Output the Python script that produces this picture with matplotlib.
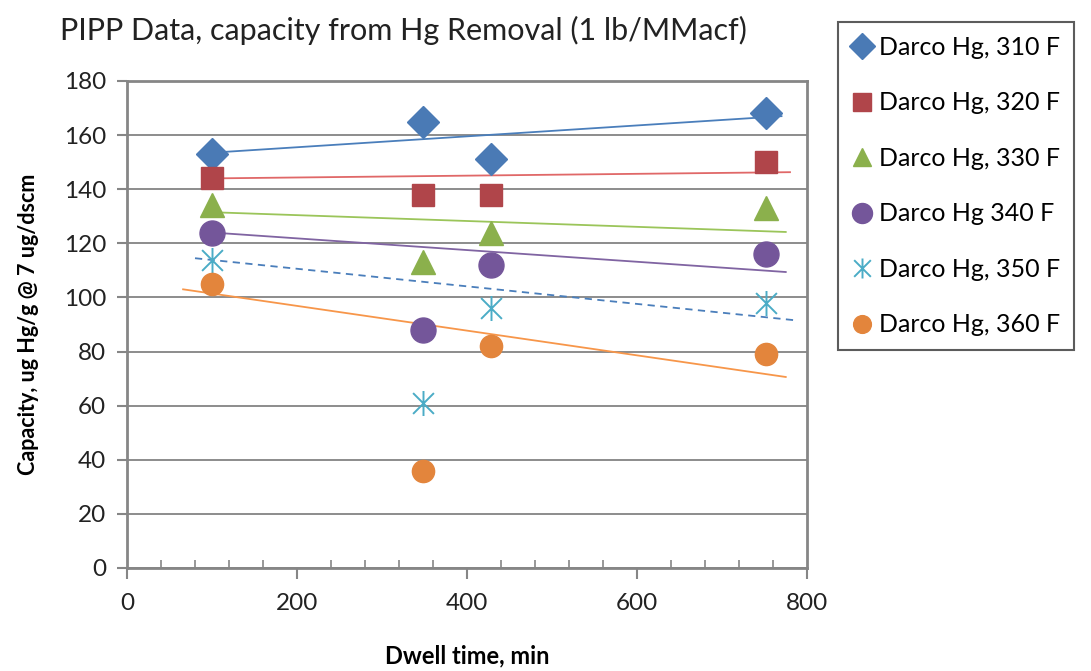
import matplotlib
matplotlib.use('Agg')
import matplotlib.pyplot as plt
from matplotlib.path import Path
from matplotlib.ticker import MultipleLocator

plt.rcParams['font.family'] = ['Lato', 'DejaVu Sans']

# Dwell time (min) shared by every series
dwell = [100, 348, 428, 752]

labels = ['Darco Hg, 310 F', 'Darco Hg, 320 F', 'Darco Hg, 330 F',
          'Darco Hg 340 F', 'Darco Hg, 350 F', 'Darco Hg, 360 F']

cap_310 = [153, 165, 151, 168]
cap_320 = [144, 138, 138, 150]
cap_330 = [134, 113, 124, 133]
cap_340 = [124, 88, 112, 116]
cap_350 = [114, 61, 96, 98]
cap_360 = [105, 36, 82, 79]

# trendline end points: (x0, x1), (y0, y1)
trend_x = [(100, 770), (100, 780), (100, 775), (100, 775), (80, 788), (66, 775)]
trend_y = [(153.5, 167), (144, 146.3), (131.5, 124.2), (124, 109.4), (114.5, 91.5), (103, 70.6)]

series = [cap_310, cap_320, cap_330, cap_340, cap_350, cap_360]
colors = ['#4a7ab5', '#b0454a', '#8bb04c', '#74569a', '#4bacc6', '#e3853c']
trend_colors = ['#4a7ebb', '#e06868', '#9bc55a', '#8064a2', '#4a7ebb', '#f7964a']
trend_styles = ['-', '-', '-', '-', (0, (4, 3)), '-']

# Excel style asterisk marker: an X plus a vertical bar
star = Path([(-0.5, -0.5), (0.5, 0.5), (-0.5, 0.5), (0.5, -0.5), (0, -0.6), (0, 0.6)],
            [Path.MOVETO, Path.LINETO, Path.MOVETO, Path.LINETO, Path.MOVETO, Path.LINETO])
markers = ['D', 's', '^', 'o', star, 'o']
sizes = [16, 16, 17, 18, 18, 16]

fig = plt.figure(figsize=(10.91, 6.71), dpi=100)
ax = fig.add_axes([127 / 1091, 1 - 568 / 671, 680 / 1091, 487 / 671])

handles = []
for i, vals in enumerate(series):
    if markers[i] is star:
        h, = ax.plot(dwell, vals, linestyle='none', marker=star, markersize=sizes[i],
                     markerfacecolor='none', markeredgecolor=colors[i],
                     markeredgewidth=1.4, label=labels[i], zorder=3)
    else:
        h, = ax.plot(dwell, vals, linestyle='none', marker=markers[i], markersize=sizes[i],
                     markerfacecolor=colors[i], markeredgecolor=colors[i],
                     label=labels[i], zorder=3)
    handles.append(h)
    ax.plot(trend_x[i], trend_y[i], color=trend_colors[i], linewidth=1.3,
            linestyle=trend_styles[i], zorder=2)

ax.set_xlim(0, 800)
ax.set_ylim(0, 180)
ax.xaxis.set_major_locator(MultipleLocator(200))
ax.xaxis.set_minor_locator(MultipleLocator(40))
ax.yaxis.set_major_locator(MultipleLocator(20))
ax.grid(True, axis='y', color='#8c8c8c', linewidth=1.4)
ax.set_axisbelow(True)
for s in ax.spines.values():
    s.set_color('#868686')
    s.set_linewidth(2)

ax.tick_params(axis='x', which='major', direction='out', length=8, width=1.5,
               color='#868686', labelsize=17.5, pad=10, labelcolor='#222222')
ax.tick_params(axis='x', which='minor', direction='in', length=6, width=1.2, color='#868686')
ax.tick_params(axis='y', which='major', direction='out', length=7, width=1.5,
               color='#868686', labelsize=17.5, pad=8, labelcolor='#222222')

ax.set_xlabel('Dwell time, min', fontsize=17, fontweight='bold', labelpad=22)
ax.set_ylabel('Capacity, ug Hg/g @ 7 ug/dscm', fontsize=15.5, fontweight='bold', labelpad=18)

fig.text(403 / 1091, 1 - 30 / 671, 'PIPP Data, capacity from Hg Removal (1 lb/MMacf)',
         fontsize=22, ha='center', va='center', color='#222222')

leg = fig.legend(handles=handles, loc='upper left', bbox_to_anchor=(838 / 1091, 1 - 22 / 671),
                 fontsize=18, frameon=True, fancybox=False, edgecolor='#333333',
                 labelspacing=1.3, markerscale=0.8, handlelength=0.8, handletextpad=0.3,
                 borderpad=0.55, borderaxespad=0)
leg.get_frame().set_linewidth(1.5)

fig.savefig('out.png', dpi=100)
